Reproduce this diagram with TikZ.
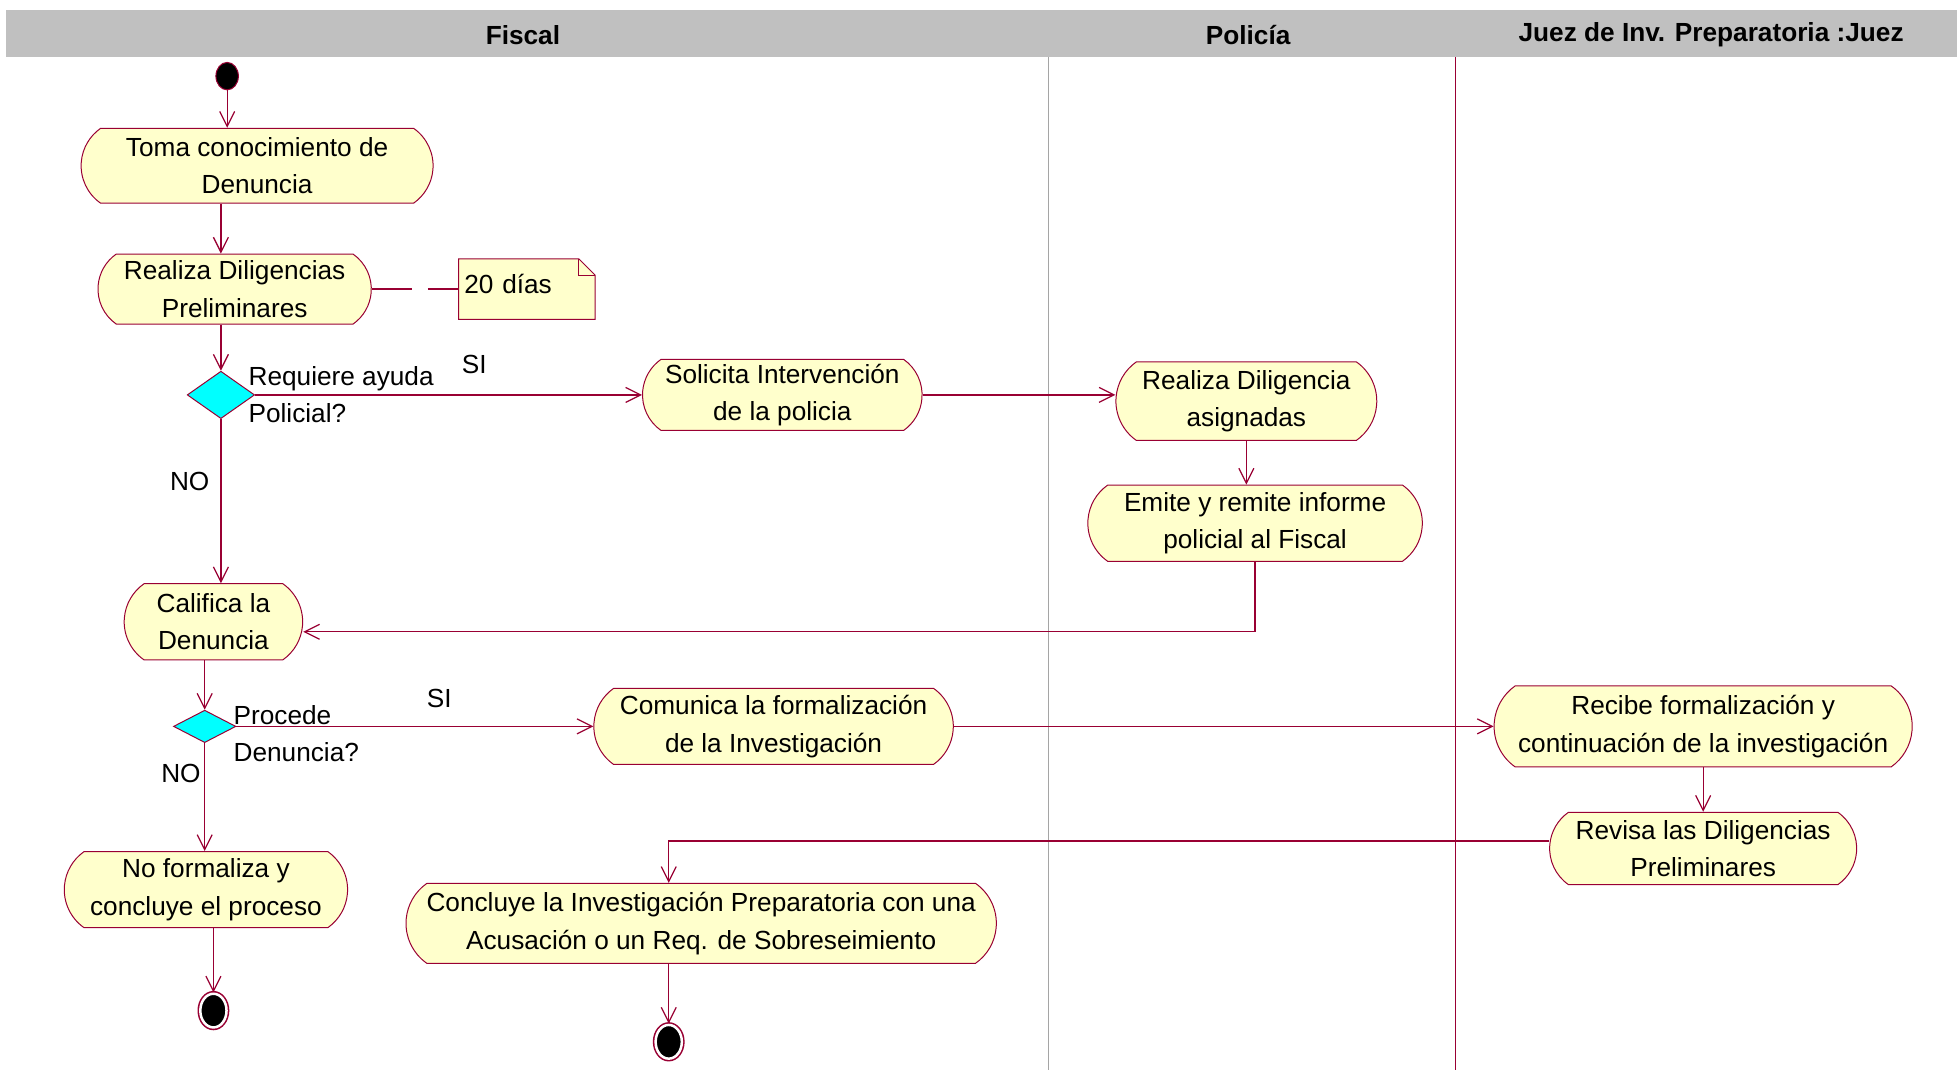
\documentclass[tikz,border=0pt]{standalone}
\usepackage{fontspec}
\setmainfont{Liberation Sans}
\usetikzlibrary{shapes.geometric,shapes.misc,arrows.meta,positioning,backgrounds}
\definecolor{linecol}{RGB}{153,0,51}
\definecolor{actfill}{RGB}{255,255,204}
\definecolor{decfill}{RGB}{0,255,255}
\definecolor{headgray}{RGB}{192,192,192}
\definecolor{lanegray}{RGB}{165,165,165}
\tikzstyle{activity} = [rounded rectangle, rounded rectangle arc length=110, draw=linecol, fill=actfill,
    line width=0.8pt, align=center, minimum height=60pt, inner sep=2pt]
\tikzstyle{decision} = [diamond, draw=linecol, fill=decfill, line width=0.8pt, inner sep=0pt]
\tikzstyle{startnode} = [ellipse, draw=linecol, fill=black, line width=0.8pt,
    minimum width=18pt, minimum height=22pt, inner sep=0pt]
\tikzstyle{finalnode} = [ellipse, fill=black, draw=white, line width=2pt,
    preaction={draw=linecol, line width=4.5pt}, minimum width=21pt, minimum height=27pt, inner sep=0pt]
\tikzstyle{flow} = [draw=linecol, line width=1pt, -{Straight Barb[length=12pt,width=12pt]}]

\begin{document}
\begin{tikzpicture}[x=1pt, y=-1pt, font=\fontsize{21}{30}\selectfont]
    \useasboundingbox (0,0) rectangle (1568,857);

    % lanes
    \fill[headgray] (5,8) rectangle (1568,46);
    \node[font=\fontsize{21}{30}\selectfont\bfseries] (laneFiscal) at (419,28) {Fiscal};
    \node[font=\fontsize{21}{30}\selectfont\bfseries] (lanePolicia) at (1000,28) {Policía};
    \node[font=\fontsize{21}{30}\selectfont\bfseries] (laneJuez) at (1371,28) {Juez de Inv. Preparatoria :Juez};
    \draw[lanegray, line width=0.8pt] (840,46) -- (840,857);
    \draw[linecol, line width=0.8pt] (1166,46) -- (1166,857);

    % Fiscal
    \node[startnode] (start) at (182,61) {};
    \node[activity, minimum width=286pt, below=30pt of start, xshift=24pt] (toma) {Toma conocimiento de\\Denuncia};
    \node[activity, minimum width=223pt, minimum height=56pt, below=40pt of toma, xshift=-18pt] (realiza) {Realiza Diligencias\\Preliminares};
    \node[right=69.5pt of realiza, minimum width=109pt, minimum height=48pt, text width=100pt,
        align=left, inner sep=3pt] (nota) {\raisebox{9pt}{20 días}};
    \node[decision, minimum width=54pt, minimum height=38pt, below=37pt of realiza, xshift=-11pt] (d1) {};
    \node[anchor=west, align=left, inner sep=1pt] (d1Label) at (198,316) {Requiere ayuda\\Policial?};
    \node[activity, minimum width=228pt, minimum height=57pt, right=310pt of d1] (solicita) {Solicita Intervención\\de la policia};
    \node[activity, minimum width=147pt, minimum height=61pt, below=131.5pt of d1, xshift=-6pt] (califica) {Califica la\\Denuncia};
    \node[decision, minimum width=50pt, minimum height=26pt, below=39.5pt of califica, xshift=-7pt] (d2) {};
    \node[anchor=west, align=left, inner sep=1pt] (d2Label) at (186,588) {Procede\\Denuncia?};
    \node[activity, minimum width=292pt, minimum height=61pt, right=286pt of d2] (comunica) {Comunica la formalización\\de la Investigación};
    \node[activity, minimum width=231pt, minimum height=61pt, below=86.5pt of d2, xshift=1pt] (noform) {No formaliza y\\concluye el proceso};
    \node[activity, minimum width=477pt, minimum height=64pt, right=46pt of noform, yshift=-27pt] (concluye) {Concluye la Investigación Preparatoria con una\\Acusación o un Req. de Sobreseimiento};
    \node[finalnode, below=51.5pt of noform, xshift=6pt] (end1) {};
    \node[finalnode, below=48pt of concluye, xshift=-26pt] (end2) {};

    % Policia
    \node[activity, minimum width=213pt, minimum height=63pt, right=154.5pt of solicita, yshift=-5pt] (realizaPol) {Realiza Diligencia\\asignadas};
    \node[activity, minimum width=272pt, minimum height=61pt, below=35pt of realizaPol, xshift=7pt] (emite) {Emite y remite informe\\policial al Fiscal};

    % Juez
    \node[activity, minimum width=339pt, minimum height=65pt, right=432.5pt of comunica] (recibe) {Recibe formalización y\\continuación de la investigación};
    \node[activity, minimum width=250pt, minimum height=58pt, below=35.5pt of recibe] (revisa) {Revisa las Diligencias\\Preliminares};

    % guard labels
    \node (si1) at (380,292) {SI};
    \node (no1) at (152,386) {NO};
    \node (si2) at (352,560) {SI};
    \node (no2) at (145,620) {NO};

    % note
    \begin{scope}[on background layer]
        \fill[white] (0,0) rectangle (1568,857);
        \filldraw[fill=actfill, draw=linecol, line width=0.8pt] (nota.north west) -- ([xshift=-13pt]nota.north east)
            -- ([yshift=-13pt]nota.north east) -- (nota.south east) -- (nota.south west) -- cycle;
        \draw[linecol, line width=0.8pt] ([xshift=-13pt]nota.north east) |- ([yshift=-13pt]nota.north east);
    \end{scope}
    \path[draw=linecol, line width=1pt, dash pattern=on 32pt off 13pt] (realiza.east) -- (nota.west);

    \path[flow] (start) -- (start |- toma.north);
    \path[flow] (toma.south -| d1) -- (realiza.north -| d1);
    \path[flow] (realiza.south -| d1) -- (d1.north);
    \path[flow] (d1.east) -- (solicita.west);
    \path[flow] (d1.south) -- (califica.north -| d1);
    \path[flow] (solicita.east) -- (solicita.east -| realizaPol.west);
    \path[flow] (realizaPol.south) -- (realizaPol.south |- emite.north);
    \path[flow] (emite.south) |- ([yshift=-8pt]califica.east);
    \path[flow] (califica.south -| d2) -- (d2.north);
    \path[flow] (d2.east) -- (comunica.west);
    \path[flow] (d2.south) -- (noform.north -| d2);
    \path[flow] (comunica.east) -- (recibe.west);
    \path[flow] (recibe.south) -- (revisa.north);
    \path[flow] ([yshift=6pt]revisa.west) -| ([xshift=-26pt]concluye.north);
    \path[flow] ([xshift=-26pt]concluye.south) -- (end2.north);
    \path[flow] (noform.south -| end1) -- (end1.north);
\end{tikzpicture}
\end{document}
